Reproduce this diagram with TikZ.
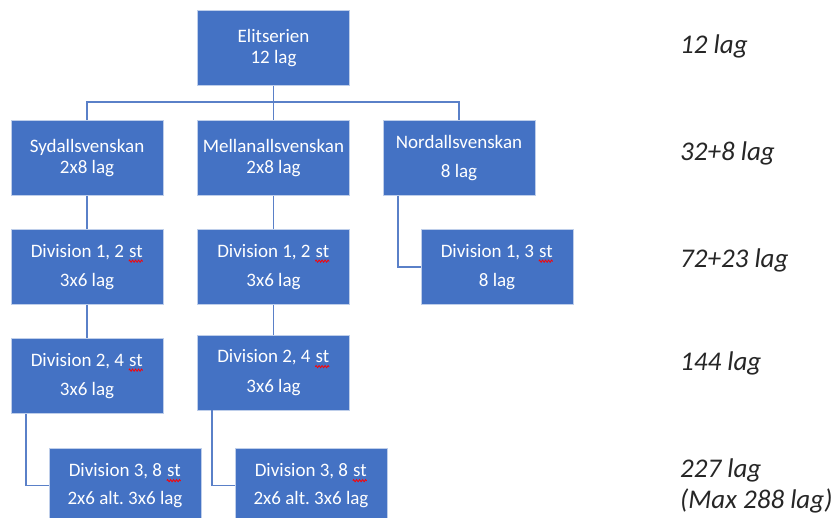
\documentclass[tikz,border=0pt]{standalone}
\usepackage{fontspec}
\setmainfont{Carlito}
\usetikzlibrary{decorations.pathmorphing}
\definecolor{boxblue}{HTML}{4472C4}
\definecolor{lineblue}{HTML}{5A80C8}
\definecolor{labelgray}{HTML}{262626}
\newcommand{\spell}[1]{\tikz[baseline=(sw.base)]{\node[inner sep=0pt,minimum size=0pt,draw=none,fill=none,text=white] (sw) {#1};
  \draw[red,line width=0.8pt,decorate,decoration={zigzag,amplitude=1.1pt,segment length=3pt}]
    ([yshift=-4pt]sw.base west) -- ([yshift=-4pt]sw.base east);}}

\begin{document}
\begin{tikzpicture}[x=1pt,y=-1pt,
  box/.style={rectangle,fill=boxblue,draw=boxblue!35!white,line width=0.6pt,text=white,
    minimum width=152pt,minimum height=75pt,align=center,inner sep=2pt,
    font=\fontsize{19}{21.5}\selectfont},
  conn/.style={draw=lineblue,line width=1.6pt},
  total/.style={anchor=base west,text=labelgray,inner sep=0pt,
    font=\fontsize{27}{30}\selectfont\itshape}]
\useasboundingbox (0,0) rectangle (835,517);
\clip (0,0) rectangle (835,517);

\node[box] (elit) at (273.5,48) {Elitserien\\12 lag};
\node[box] (syd) at (87,158) {Sydallsvenskan\\2x8 lag};
\node[box] (mellan) at (273.5,158) {Mellanallsvenskan\\2x8 lag};
\node[box] (nord) at (459,158) {Nordallsvenskan\\[8pt]8 lag};
\node[box] (sydA) at (87,267) {Division 1, 2 \spell{st}\\[8pt]3x6 lag};
\node[box] (mellanA) at (273.5,267) {Division 1, 2 \spell{st}\\[8pt]3x6 lag};
\node[box] (nordA) at (497,267) {Division 1, 3 \spell{st}\\[8pt]8 lag};
\node[box] (sydB) at (87,376) {Division 2, 4 \spell{st}\\[8pt]3x6 lag};
\node[box] (mellanB) at (273.5,372.5) {Division 2, 4 \spell{st}\\[8pt]3x6 lag};
\node[box] (sydC) at (125,485.5) {Division 3, 8 \spell{st}\\[6pt]2x6 alt.\ 3x6 lag};
\node[box] (mellanC) at (311,485.5) {Division 3, 8 \spell{st}\\[6pt]2x6 alt.\ 3x6 lag};

\coordinate (bus) at (273.5,102);
\draw[conn] (elit) -- (mellan);
\draw[conn] (syd.north) |- (bus) -| (nord.north);
\draw[conn] (syd) -- (sydA);
\draw[conn] (sydA) -- (sydB);
\draw[conn] (mellan) -- (mellanA);
\draw[conn] (mellanA) -- (mellanB);
\draw[conn] ([xshift=15pt]nord.south west) |- (nordA.west);
\draw[conn] ([xshift=15pt]sydB.south west) |- (sydC.west);
\draw[conn] ([xshift=15pt]mellanB.south west) |- (mellanC.west);

\node[total] (tot1) at (680,53) {12 lag};
\node[total] (tot2) at (680,160) {32+8 lag};
\node[total] (tot3) at (680,267) {72+23 lag};
\node[total] (tot4) at (680,370) {144 lag};
\node[total] (tot5) at (680,477) {227 lag};
\node[total] (tot6) at (680,508) {(Max 288 lag)};
\end{tikzpicture}
\end{document}
